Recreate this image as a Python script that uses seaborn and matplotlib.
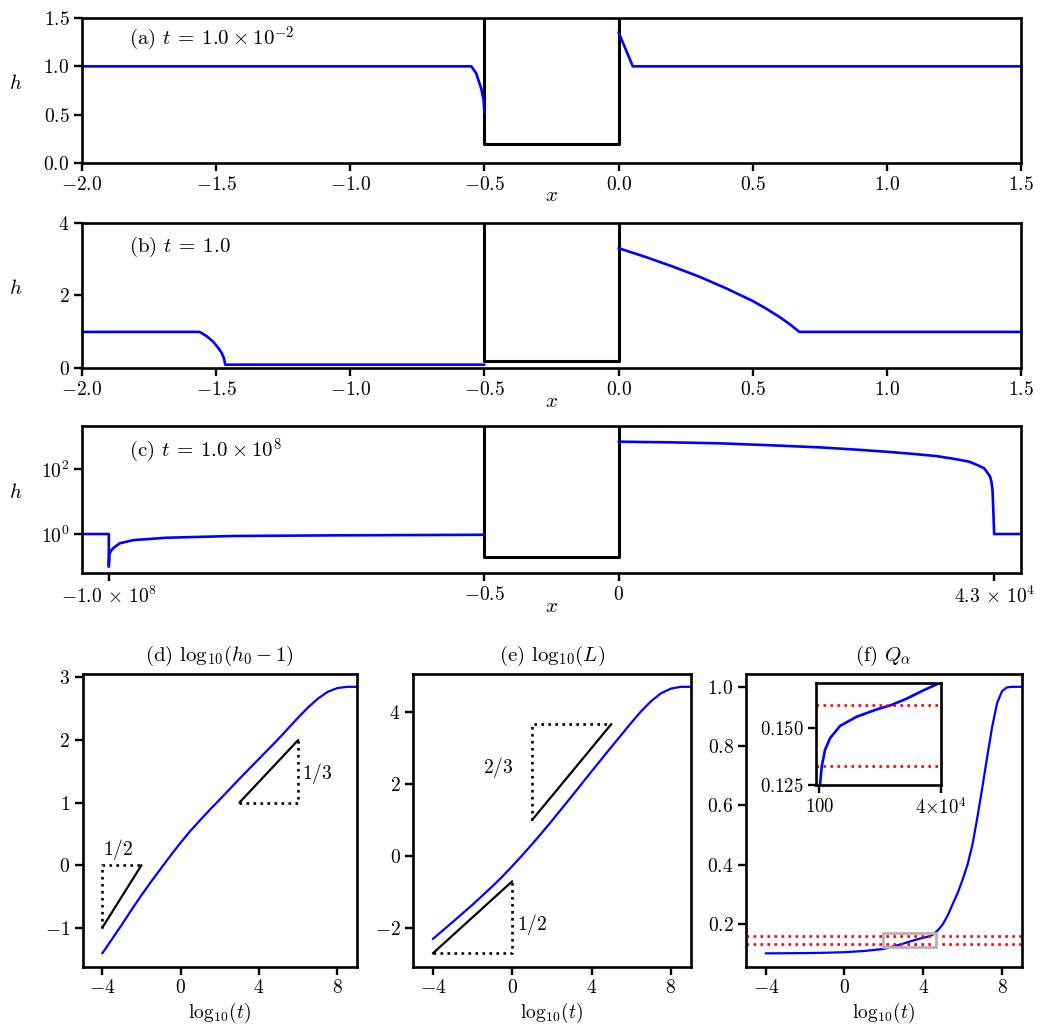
import numpy as np
import pandas as pd
import matplotlib
matplotlib.use("Agg")
import matplotlib.pyplot as plt
import seaborn as sns
from matplotlib.patches import Rectangle
from matplotlib.ticker import FixedLocator, NullLocator, FuncFormatter

# ----------------------------- data -----------------------------
# (a) t = 1e-2
a_left_x = [-2.0, -0.549, -0.531, -0.512, -0.503, -0.500]
a_left_h = [1.0, 1.0, 0.93, 0.77, 0.65, 0.52]
a_right_x = [0.0, 0.053, 1.5]
a_right_h = [1.352, 1.0, 1.0]

# (b) t = 1
b_left_x = [-2.0, -1.561, -1.535, -1.511, -1.493, -1.480, -1.471, -1.466, -0.5]
b_left_h = [1.0, 1.0, 0.88, 0.73, 0.57, 0.43, 0.28, 0.10, 0.10]
b_right_x = [0.0, 0.10, 0.20, 0.30, 0.40, 0.50, 0.55, 0.60, 0.64, 0.674, 1.5]
b_right_h = [3.30, 3.06, 2.80, 2.52, 2.20, 1.85, 1.64, 1.41, 1.20, 1.0, 1.0]

# (c) t = 1e8 ; left x in units of 1e8, right x in units of 1e4
c_left_x = [-1.071, -1.0, -1.0, -0.9986, -0.992, -0.988, -0.971, -0.935, -0.846, -0.669, -0.403, -0.2, 0.0]
c_left_h = [1.0, 1.0, 0.099, 0.25, 0.33, 0.37, 0.52, 0.65, 0.77, 0.87, 0.91, 0.93, 0.95]
c_right_x = [0.0, 0.6, 1.155, 1.7, 2.298, 2.7, 3.061, 3.35, 3.633, 3.85, 4.014, 4.1, 4.186, 4.22,
             4.254, 4.27, 4.281, 4.29, 4.3, 4.607]
c_right_h = [692, 661, 617, 543, 464, 398, 341, 295, 251, 204, 168, 135, 105, 79,
             58, 38, 22.6, 5.5, 1.0, 1.0]

# obstacle (black box)
box_x = [-0.5, -0.5, 0.0, 0.0]
box_h = [1e5, 0.2, 0.2, 1e5]

# (d) log10(h0-1) vs log10(t)
d_logt = [-4, -3.5, -3, -2.5, -2, -1.5, -1, -0.5, 0, 0.5, 1, 1.5, 2, 3, 4, 5, 6, 6.5, 7, 7.5, 8, 8.5, 9]
d_val = [-1.41, -1.18, -0.95, -0.71, -0.48, -0.26, -0.05, 0.16, 0.36, 0.55, 0.72, 0.89, 1.05, 1.38,
         1.70, 2.02, 2.36, 2.52, 2.66, 2.77, 2.83, 2.85, 2.85]
d_tri1 = dict(x=[-4, -2], y=[-1, 0])
d_tri2 = dict(x=[3, 6], y=[1, 2])

# (e) log10(L) vs log10(t)
e_logt = [-4, -3, -2, -1, -0.5, 0, 0.5, 1, 1.5, 2, 3, 4, 5, 6, 6.5, 7, 7.5, 8, 8.5, 9]
e_val = [-2.30, -1.83, -1.35, -0.84, -0.57, -0.28, 0.02, 0.33, 0.65, 0.98, 1.66, 2.35, 3.03, 3.70,
         4.02, 4.30, 4.52, 4.65, 4.70, 4.70]
e_tri1 = dict(x=[-4, 0], y=[-2.7, -0.7])
e_tri2 = dict(x=[1, 5], y=[1.0, 1.0 + 8 / 3])

# (f) Q_alpha vs log10(t)
f_logt = [-4, -3, -2, -1, 0, 1, 2, 2.5, 2.94, 3.29, 3.56, 3.84, 4.09, 4.28, 4.37, 4.46, 4.535, 4.6,
          4.8, 5.0, 5.25, 5.5, 5.75, 6.0, 6.25, 6.5, 6.75, 7.0, 7.25, 7.5, 7.75, 8.0, 8.25, 8.5, 9.0]
f_val = [0.101, 0.1015, 0.102, 0.103, 0.105, 0.109, 0.116, 0.125, 0.133, 0.1404, 0.1456, 0.151, 0.155,
         0.1583, 0.160, 0.163, 0.1666, 0.170, 0.183, 0.200, 0.230, 0.268, 0.305, 0.350, 0.400, 0.468,
         0.560, 0.660, 0.765, 0.865, 0.945, 0.985, 0.998, 1.0, 1.0]
f_ref_levels = [0.1335, 0.1600]
inset_xlim = (-1000, 4e4)
inset_ylim = (0.125, 0.170)

# ----------------------------- style -----------------------------
sns.set_theme(style="ticks")
plt.rcParams.update({
    "font.family": "serif",
    "font.serif": ["cmr10", "DejaVu Serif"],
    "mathtext.fontset": "cm",
    "axes.formatter.use_mathtext": True,
    "axes.unicode_minus": True,
    "axes.linewidth": 1.9,
    "axes.edgecolor": "black",
    "xtick.color": "black",
    "ytick.color": "black",
    "text.color": "black",
    "axes.labelcolor": "black",
})
FS = 14
BLUE = "#0000ff"
LW_BLUE = 1.9

fig = plt.figure(figsize=(10.41, 10.32), dpi=100)
W, H = 1041, 1032


def rect(l, r, t, b):
    return [l / W, 1 - b / H, (r - l) / W, (b - t) / H]


def fmt(decimals):
    return FuncFormatter(lambda v, p: "$%.*f$" % (decimals, v))


def style_axes(ax):
    ax.tick_params(direction="out", length=5.5, width=1.7, labelsize=FS, pad=3.5,
                   top=False, right=False)
    for s in ax.spines.values():
        s.set_linewidth(1.9)
        s.set_color("black")


def line(ax, x, y, **kw):
    sns.lineplot(x=np.asarray(x, float), y=np.asarray(y, float), ax=ax, sort=False,
                 estimator=None, legend=False, **kw)


# ----------------------------- top panels -----------------------------
ax_a = fig.add_axes(rect(82, 1021, 18, 163))
ax_b = fig.add_axes(rect(82, 1021, 222.7, 368.3))
ax_c = fig.add_axes(rect(82, 1021, 425.7, 573.3))

for ax, lx, lh, rx, rh in [(ax_a, a_left_x, a_left_h, a_right_x, a_right_h),
                           (ax_b, b_left_x, b_left_h, b_right_x, b_right_h)]:
    line(ax, box_x, box_h, color="black", linewidth=2.2)
    line(ax, lx, lh, color=BLUE, linewidth=LW_BLUE)
    line(ax, rx, rh, color=BLUE, linewidth=LW_BLUE)
    ax.set_xlim(-2.0, 1.5)
    ax.xaxis.set_major_locator(FixedLocator([-2.0, -1.5, -1.0, -0.5, 0.0, 0.5, 1.0, 1.5]))
    ax.xaxis.set_major_formatter(fmt(1))

ax_a.set_ylim(0, 1.5)
ax_a.yaxis.set_major_locator(FixedLocator([0.0, 0.5, 1.0, 1.5]))
ax_a.yaxis.set_major_formatter(fmt(1))
ax_b.set_ylim(0, 4)
ax_b.yaxis.set_major_locator(FixedLocator([0, 2, 4]))
ax_b.yaxis.set_major_formatter(fmt(0))

# (c): piecewise mapping of real x onto the panel axis
ax_c.set_yscale("log")
c_left_plot = [-0.5 + 1.4 * v for v in c_left_x]
c_right_plot = [1.4 * v / 4.3 for v in c_right_x]
line(ax_c, box_x, box_h, color="black", linewidth=2.2)
line(ax_c, c_left_plot, c_left_h, color=BLUE, linewidth=LW_BLUE)
line(ax_c, c_right_plot, c_right_h, color=BLUE, linewidth=LW_BLUE)
ax_c.set_xlim(-2.0, 1.5)
ax_c.set_ylim(0.062, 2150)
ax_c.xaxis.set_major_locator(FixedLocator([-1.9, -0.5, 0.0, 1.4]))
ax_c.set_xticklabels([r"$-1.0\,\times\,10^{8}$", r"$-0.5$", r"$0$", r"$4.3\,\times\,10^{4}$"])
ax_c.yaxis.set_major_locator(FixedLocator([1, 100]))
ax_c.yaxis.set_minor_locator(NullLocator())

labels_top = [r"(a) $t\:=\:1.0\:\times\:10^{-2}$", r"(b) $t\:=\:1.0$", r"(c) $t\:=\:1.0\:\times\:10^{8}$"]
label_y = [0.814, 0.80, 0.79]
for ax, txt, yy in zip([ax_a, ax_b, ax_c], labels_top, label_y):
    style_axes(ax)
    ax.set_ylabel(r"$h$", rotation=0, fontsize=FS + 1)
    ax.yaxis.set_label_coords(-0.0706, 0.55)
    ax.yaxis.label.set_va("center")
    ax.yaxis.label.set_ha("center")
    ax.set_xlabel(r"$x$", fontsize=FS + 1)
    ax.xaxis.set_label_coords(0.5, -0.23)
    ax.xaxis.label.set_va("center")
    ax.text(0.0504, yy, txt, transform=ax.transAxes, fontsize=FS + 1, va="baseline", ha="left")

# ----------------------------- bottom panels -----------------------------
ax_d = fig.add_axes(rect(82.7, 357, 673.5, 966.7))
ax_e = fig.add_axes(rect(413, 690.7, 673.5, 966.7))
ax_f = fig.add_axes(rect(746, 1021.7, 673.5, 966.7))

# (d)
line(ax_d, d_logt, d_val, color=BLUE, linewidth=1.6)
line(ax_d, d_tri1["x"], d_tri1["y"], color="black", linewidth=1.6)
line(ax_d, [d_tri1["x"][0], d_tri1["x"][0], d_tri1["x"][1]],
     [d_tri1["y"][0], d_tri1["y"][1], d_tri1["y"][1]], color="black", linewidth=1.9, linestyle=":")
line(ax_d, d_tri2["x"], d_tri2["y"], color="black", linewidth=1.6)
line(ax_d, [d_tri2["x"][0], d_tri2["x"][1], d_tri2["x"][1]],
     [d_tri2["y"][0], d_tri2["y"][0], d_tri2["y"][1]], color="black", linewidth=1.9, linestyle=":")
ax_d.text(-3.2, 0.25, r"$1/2$", fontsize=FS, ha="center", va="center")
ax_d.text(6.2, 1.47, r"$1/3$", fontsize=FS, ha="left", va="center")
ax_d.set_xlim(-5, 9)
ax_d.yaxis.set_major_locator(FixedLocator([-1, 0, 1, 2, 3]))
ax_d.set_title(r"(d) $\mathrm{log}_{10}(h_0-1)$", fontsize=FS + 1, pad=9)

# (e)
line(ax_e, e_logt, e_val, color=BLUE, linewidth=1.6)
line(ax_e, e_tri1["x"], e_tri1["y"], color="black", linewidth=1.6)
line(ax_e, [e_tri1["x"][0], e_tri1["x"][1], e_tri1["x"][1]],
     [e_tri1["y"][0], e_tri1["y"][0], e_tri1["y"][1]], color="black", linewidth=1.9, linestyle=":")
line(ax_e, e_tri2["x"], e_tri2["y"], color="black", linewidth=1.6)
line(ax_e, [e_tri2["x"][0], e_tri2["x"][0], e_tri2["x"][1]],
     [e_tri2["y"][0], e_tri2["y"][1], e_tri2["y"][1]], color="black", linewidth=1.9, linestyle=":")
ax_e.text(-0.7, 2.45, r"$2/3$", fontsize=FS, ha="center", va="center")
ax_e.text(0.22, -1.89, r"$1/2$", fontsize=FS, ha="left", va="center")
ax_e.set_xlim(-5, 9)
ax_e.yaxis.set_major_locator(FixedLocator([-2, 0, 2, 4]))
ax_e.set_title(r"(e) $\mathrm{log}_{10}(L)$", fontsize=FS + 1, pad=9)

# (f)
line(ax_f, f_logt, f_val, color=BLUE, linewidth=1.6)
for lv in f_ref_levels:
    ax_f.axhline(lv, color="red", linestyle=":", linewidth=1.9)
ax_f.add_patch(Rectangle((np.log10(100) - 0.05, inset_ylim[0] - 0.0015),
                         np.log10(4e4) + 0.04 - (np.log10(100) - 0.05),
                         inset_ylim[1] - inset_ylim[0] + 0.0015,
                         fill=False, edgecolor="#b4b4b4", linewidth=2.0, zorder=3))
ax_f.set_xlim(-5, 9)
ax_f.yaxis.set_major_locator(FixedLocator([0.2, 0.4, 0.6, 0.8, 1.0]))
ax_f.yaxis.set_major_formatter(fmt(1))
ax_f.set_title(r"(f) $Q_{\alpha}$", fontsize=FS + 1, pad=9)

for ax in [ax_d, ax_e, ax_f]:
    style_axes(ax)
    ax.xaxis.set_major_locator(FixedLocator([-4, 0, 4, 8]))
    ax.set_xlabel(r"$\mathrm{log}_{10}(t)$", fontsize=FS, labelpad=3)

# inset
ax_in = fig.add_axes(rect(816, 940.7, 682.7, 785))
t_lin = [10 ** v for v in f_logt]
line(ax_in, t_lin, f_val, color=BLUE, linewidth=1.9)
for lv in f_ref_levels:
    ax_in.axhline(lv, color="red", linestyle=":", linewidth=1.9)
ax_in.set_xlim(*inset_xlim)
ax_in.set_ylim(*inset_ylim)
ax_in.xaxis.set_major_locator(FixedLocator([100, 4e4]))
ax_in.set_xticklabels([r"$100$", r"$4{\times}10^{4}$"])
ax_in.yaxis.set_major_locator(FixedLocator([0.125, 0.150]))
ax_in.yaxis.set_major_formatter(fmt(3))
style_axes(ax_in)
ax_in.tick_params(labelsize=FS - 0.5)
ax_in.set_xlabel("")
ax_in.set_ylabel("")

fig.savefig("out.png", dpi=100)
